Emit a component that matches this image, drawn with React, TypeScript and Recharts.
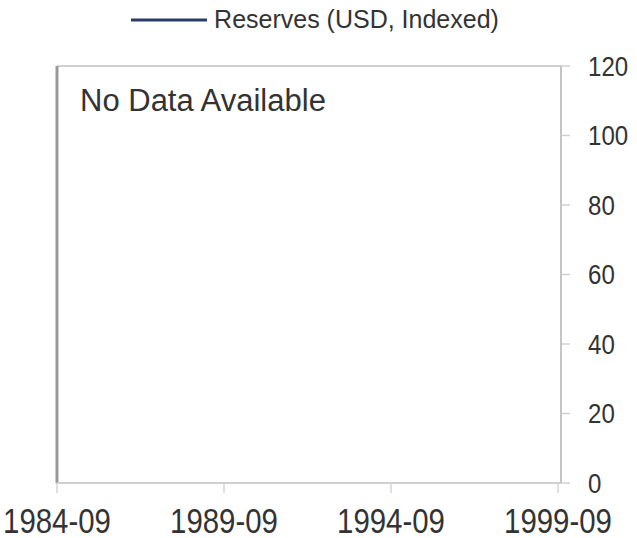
import React from "react"
import {
  LineChart,
  Line,
  XAxis,
  YAxis,
  Legend,
  ReferenceLine,
  Label,
} from "recharts"

// dates as decimal years (September = .75)
const dates = [1984.75, 1989.75, 1994.75, 1999.75]
const dateLabels = ["1984-09", "1989-09", "1994-09", "1999-09"]
// no observations for this series
const reserves: (number | null)[] = [null, null, null, null]
const yTicks = [0, 20, 40, 60, 80, 100, 120]

const data = dates.map((d, i) => ({ date: d, reserves: reserves[i] }))

const font = "'Liberation Sans', Arial, sans-serif"

// the original uses a face with narrow figures, squeeze a bit horizontally
function XTick(props: any) {
  const { x, y, payload } = props
  return (
    <g transform={`translate(${x},${y})`}>
      <text
        transform="scale(0.84,1)"
        textAnchor="middle"
        dy="0.71em"
        fontSize={35}
        fill="#333"
        fontFamily={font}
      >
        {dateLabels[dates.indexOf(payload.value)] ?? ""}
      </text>
    </g>
  )
}

function YTick(props: any) {
  const { x, y, payload } = props
  return (
    <g transform={`translate(${x},${y})`}>
      <text
        transform="scale(0.86,1)"
        textAnchor="start"
        dy="0.355em"
        fontSize={28}
        fill="#333"
        fontFamily={font}
      >
        {payload.value}
      </text>
    </g>
  )
}

function LegendContent() {
  return (
    <div
      style={{
        display: "flex",
        alignItems: "center",
        justifyContent: "center",
        paddingTop: 5,
        marginLeft: -64,
        fontFamily: font,
        fontSize: 25,
        color: "#333",
      }}
    >
      <svg width={76} height={6} style={{ marginRight: 7 }}>
        <line x1={0} y1={3} x2={76} y2={3} stroke="#2b3a67" strokeWidth={3} />
      </svg>
      <span>Reserves (USD, Indexed)</span>
    </div>
  )
}

export default function App() {
  return (
    <div style={{ position: "absolute", left: 0, top: 0, background: "#fff" }}>
      <LineChart
        width={637}
        height={538}
        data={data}
        margin={{ top: 0, right: 0, bottom: 0, left: 57 }}
      >
        <Legend verticalAlign="top" height={66} content={<LegendContent />} />
        <XAxis
          dataKey="date"
          type="number"
          domain={[dates[0], dates[dates.length - 1]]}
          ticks={dates}
          interval={0}
          padding={{ left: 0, right: 3 }}
          height={55}
          axisLine={{ stroke: "#cfcfcf", strokeWidth: 2 }}
          tickLine={{ stroke: "#d5d5d5", strokeWidth: 1.5 }}
          tickSize={10}
          tickMargin={15}
          tick={<XTick />}
        />
        <YAxis
          dataKey="reserves"
          orientation="right"
          type="number"
          domain={[0, 120]}
          allowDataOverflow
          ticks={yTicks}
          interval={0}
          width={76}
          axisLine={{ stroke: "#c4c4c4", strokeWidth: 2 }}
          tickLine={{ stroke: "#d0d0d0", strokeWidth: 1.5 }}
          tickSize={9}
          tickMargin={18}
          tick={<YTick />}
        />
        <ReferenceLine y={120} stroke="#d0d0d0" strokeWidth={2} ifOverflow="visible">
          <Label
            value="No Data Available"
            position="insideTopLeft"
            offset={23}
            fill="#333"
            fontSize={31}
            fontFamily={font}
          />
        </ReferenceLine>
        <ReferenceLine x={dates[0]} stroke="#999" strokeWidth={3} ifOverflow="visible" />
        <Line
          type="linear"
          dataKey="reserves"
          name="Reserves (USD, Indexed)"
          stroke="#2b3a67"
          strokeWidth={3}
          dot={false}
          isAnimationActive={false}
        />
      </LineChart>
    </div>
  )
}
